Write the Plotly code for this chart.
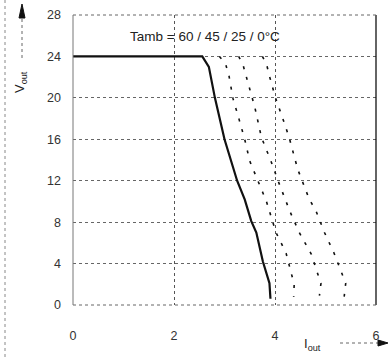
import plotly.graph_objects as go

# Output characteristic: Vout vs Iout at several ambient temperatures
t60_i = [0, 2.56, 2.69, 2.81, 3.00, 3.25, 3.40, 3.53, 3.63, 3.76, 3.89, 3.91]
t60_v = [24, 24, 23.0, 20.0, 16.0, 12.0, 10.2, 8.1, 7.0, 4.2, 2.1, 0.6]

t45_i = [2.90, 3.02, 3.09, 3.17, 3.29, 3.40, 3.50, 3.66, 3.83, 4.02, 4.22, 4.32, 4.38, 4.37]
t45_v = [24, 23.3, 22.1, 19.9, 17.9, 16.0, 13.9, 12.0, 10.0, 7.0, 5.0, 3.1, 2.0, 0.8]

t25_i = [3.28, 3.36, 3.48, 3.60, 3.73, 3.92, 4.06, 4.22, 4.29, 4.48, 4.72, 4.84, 4.91, 4.88]
t25_v = [24, 23.3, 21.2, 19.1, 16.2, 13.9, 12.0, 10.0, 9.1, 7.0, 4.9, 3.1, 2.1, 0.9]

t0_i = [3.75, 3.83, 3.89, 4.01, 4.19, 4.29, 4.45, 4.68, 4.81, 4.98, 5.17, 5.31, 5.40, 5.37]
t0_v = [24, 23.3, 22.1, 20.0, 17.5, 16.0, 13.1, 10.2, 9.1, 7.0, 5.0, 3.2, 2.1, 0.8]

x_ticks = [0, 2, 4, 6]
y_ticks = [0, 4, 8, 12, 16, 20, 24, 28]
title_text = "Tamb = 60 / 45 / 25 / 0°C"

fig = go.Figure()
dash_line = dict(color="#111", width=1.6, dash="3px,8px")
for xs, ys in [(t45_i, t45_v), (t25_i, t25_v), (t0_i, t0_v)]:
    fig.add_trace(go.Scatter(x=xs, y=ys, mode="lines", line=dash_line, showlegend=False))
fig.add_trace(go.Scatter(x=t60_i, y=t60_v, mode="lines",
                         line=dict(color="#111", width=2.2), showlegend=False))

FAM = "Liberation Sans, Arial, sans-serif"
font = dict(family=FAM, size=12.5, color="#333")
tfont = dict(family=FAM, size=13.5, color="#222")
lfont = dict(family=FAM, size=13, color="#222")

L, R, T, B = 73, 12, 15, 55
W, H = 388, 360
pw, ph = W - L - R, H - T - B

def px(x):
    return (x - L) / pw

def py(y):
    return (H - B - y) / ph

fig.update_layout(
    width=W, height=H,
    margin=dict(l=L, r=R, t=T, b=B, autoexpand=False),
    paper_bgcolor="white", plot_bgcolor="white",
    font=font,
    xaxis=dict(range=[0, 6], tickvals=x_ticks, showgrid=True, gridcolor="#555",
               griddash="dot", gridwidth=1, zeroline=False, showline=False,
               ticks="", ticklabelstandoff=21, tickfont=font, automargin=False),
    yaxis=dict(range=[0, 28], tickvals=y_ticks, showgrid=True, gridcolor="#666",
               griddash="dot", gridwidth=1, zeroline=False, showline=False,
               ticks="", ticklabelstandoff=11, tickfont=font, automargin=False),
    annotations=[
        dict(text=title_text, xref="paper", yref="paper", x=px(205), y=py(36),
             xanchor="center", yanchor="middle", showarrow=False, font=tfont),
        dict(text="V<sub>out</sub>", xref="paper", yref="paper", x=px(20), y=py(82),
             xanchor="center", yanchor="middle", textangle=-90, showarrow=False, font=lfont),
        dict(text="I<sub>out</sub>", xref="paper", yref="paper", x=px(312), y=py(344),
             xanchor="center", yanchor="middle", showarrow=False, font=lfont),
    ],
    shapes=[
        # frame lines
        dict(type="line", xref="paper", yref="paper", x0=1, x1=1, y0=0, y1=1,
             line=dict(color="#111", width=1.3)),
        dict(type="line", xref="paper", yref="paper", x0=0, x1=1, y0=1, y1=1,
             line=dict(color="#666", width=1, dash="dot")),
        dict(type="line", xref="paper", yref="paper", x0=0, x1=1, y0=0, y1=0,
             line=dict(color="#666", width=1, dash="dot")),
        dict(type="line", xref="paper", yref="paper", x0=0, x1=0, y0=0, y1=1,
             line=dict(color="#777", width=1)),
        # page border on the left
        dict(type="line", xref="paper", yref="paper", x0=px(5), x1=px(5), y0=py(0), y1=py(360),
             line=dict(color="#888", width=1, dash="dot")),
        # y arrow
        dict(type="line", xref="paper", yref="paper", x0=px(22), x1=px(22), y0=py(58), y1=py(17),
             line=dict(color="#666", width=1, dash="dot")),
        dict(type="path", xref="paper", yref="paper",
             path=f"M {px(22)} {py(4)} L {px(19)} {py(18)} L {px(25)} {py(18)} Z",
             fillcolor="#111", line=dict(color="#111", width=1)),
        # x arrow
        dict(type="line", xref="paper", yref="paper", x0=px(340), x1=px(379), y0=py(343), y1=py(343),
             line=dict(color="#666", width=1, dash="dot")),
        dict(type="path", xref="paper", yref="paper",
             path=f"M {px(388)} {py(343)} L {px(378)} {py(340)} L {px(378)} {py(346)} Z",
             fillcolor="#111", line=dict(color="#111", width=1)),
    ],
)

fig.write_html("out.html", config={"displayModeBar": False},
               post_script="document.body.style.margin='0';document.body.style.overflow='hidden';")
